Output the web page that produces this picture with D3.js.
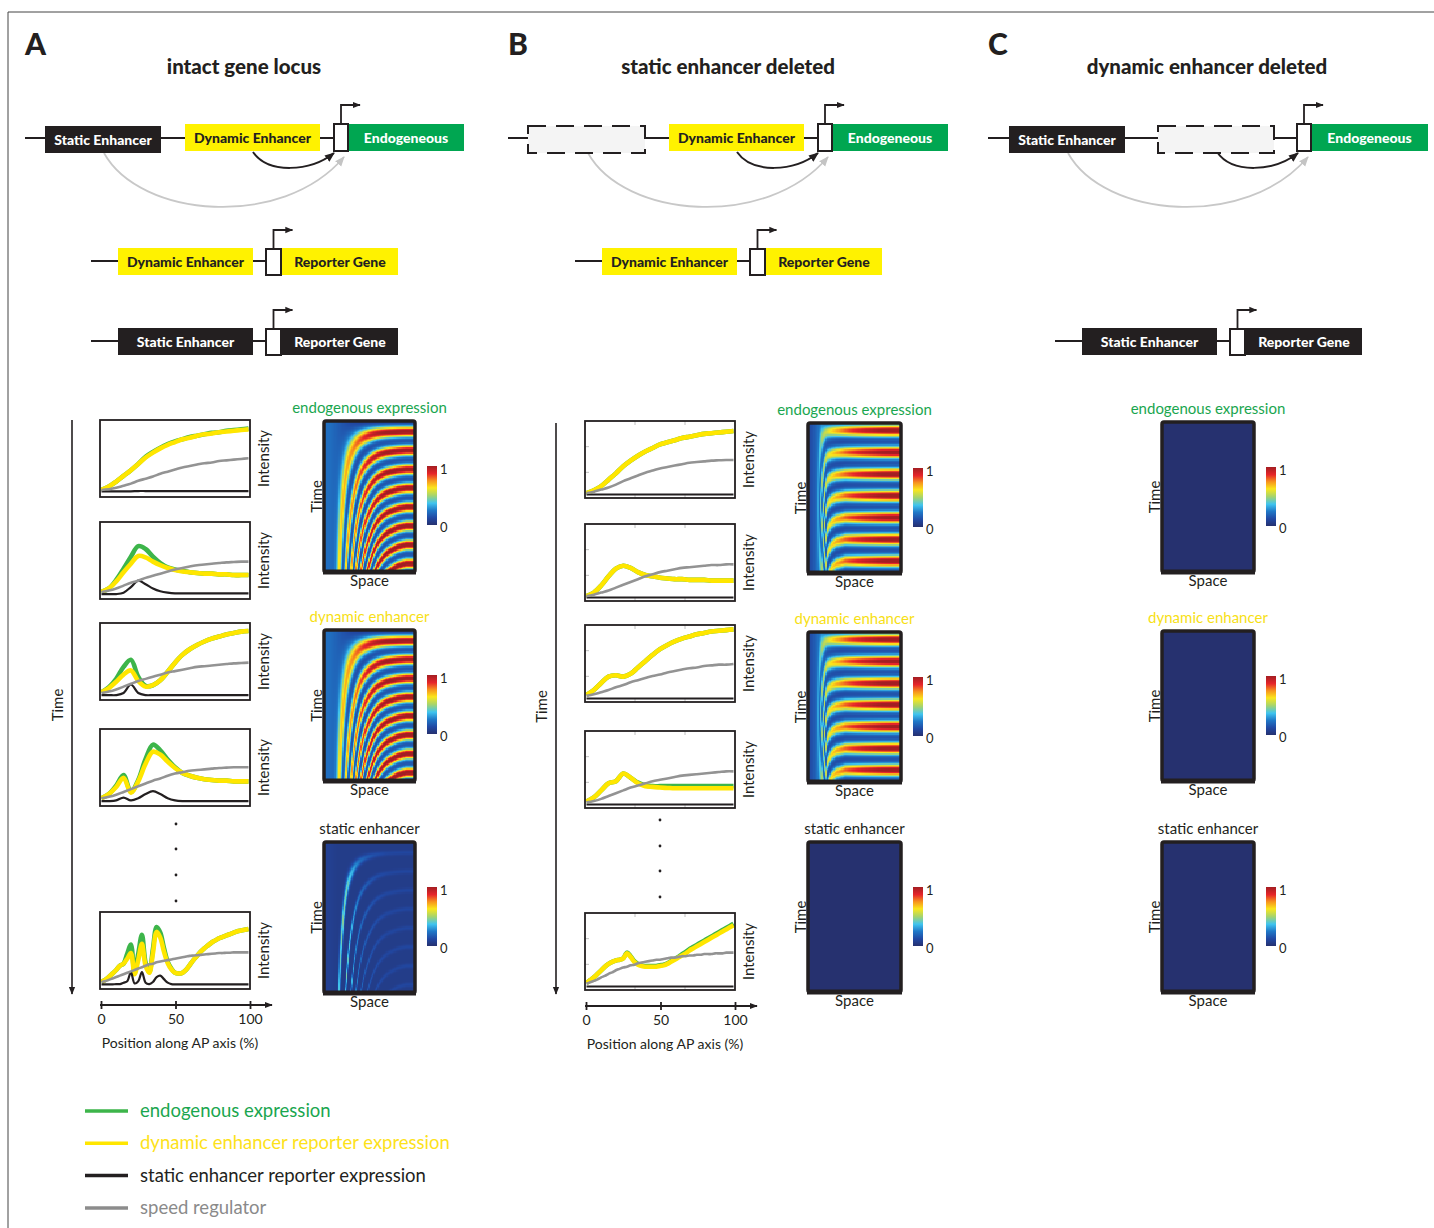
<!DOCTYPE html>
<html>
<head>
<meta charset="utf-8">
<script src="https://cdn.jsdelivr.net/npm/d3@7"></script>
<style>
  body { margin: 0; background: #fff; }
  svg text { font-family: Lato, "Open Sans", sans-serif; }
</style>
</head>
<body>
<svg id="fig" width="1434" height="1228"></svg>
<script>
// ---- data ----
const apPos = [0,5,10,15,20,25,30,35,40,45,50,55,60,65,70,75,80,85,90,95,100];
const apPosFine = [0,2.5,5,7.5,10,12.5,15,17.5,20,22.5,25,27.5,30,32.5,35,37.5,40,42.5,45,47.5,50,
  52.5,55,57.5,60,62.5,65,67.5,70,72.5,75,77.5,80,82.5,85,87.5,90,92.5,95,97.5,100];
const axisTicks = [0, 50, 100];

// panel A, intact locus: five snapshots along time
const aEndogenous = [
  [0.05,0.10,0.17,0.25,0.33,0.42,0.52,0.59,0.65,0.70,0.74,0.77,0.80,0.82,0.84,0.86,0.87,0.89,0.90,0.91,0.92],
  [0.05,0.10,0.22,0.38,0.55,0.70,0.66,0.55,0.46,0.40,0.37,0.35,0.33,0.32,0.31,0.31,0.30,0.30,0.29,0.29,0.29],
  [0.06,0.13,0.25,0.42,0.52,0.28,0.15,0.16,0.23,0.35,0.48,0.59,0.67,0.73,0.78,0.82,0.85,0.88,0.90,0.92,0.93],
  [0.06,0.12,0.24,0.39,0.15,0.32,0.62,0.82,0.74,0.61,0.50,0.42,0.38,0.35,0.33,0.32,0.31,0.31,0.30,0.30,0.30],
  [0.05,0.08,0.12,0.17,0.22,0.28,0.31,0.45,0.58,0.18,0.45,0.72,0.32,0.19,0.52,0.83,0.75,0.53,0.34,0.24,0.18,
   0.17,0.18,0.22,0.29,0.36,0.42,0.48,0.53,0.57,0.61,0.64,0.67,0.69,0.71,0.73,0.75,0.77,0.78,0.79,0.80]
];
const aDynamic = [
  [0.05,0.10,0.17,0.25,0.33,0.42,0.51,0.58,0.64,0.69,0.73,0.77,0.79,0.82,0.84,0.85,0.87,0.88,0.89,0.90,0.91],
  [0.05,0.10,0.20,0.33,0.45,0.56,0.54,0.48,0.43,0.39,0.36,0.34,0.33,0.32,0.31,0.31,0.30,0.30,0.29,0.29,0.29],
  [0.06,0.12,0.21,0.31,0.37,0.22,0.14,0.16,0.23,0.35,0.48,0.59,0.67,0.73,0.78,0.82,0.85,0.88,0.90,0.92,0.93],
  [0.06,0.12,0.22,0.35,0.14,0.30,0.55,0.72,0.68,0.58,0.49,0.42,0.38,0.35,0.33,0.32,0.31,0.31,0.30,0.30,0.30],
  [0.05,0.08,0.12,0.17,0.22,0.28,0.31,0.38,0.46,0.16,0.36,0.59,0.28,0.18,0.46,0.76,0.68,0.48,0.32,0.23,0.18,
   0.17,0.18,0.22,0.29,0.36,0.42,0.48,0.53,0.57,0.61,0.64,0.67,0.69,0.71,0.73,0.75,0.77,0.78,0.79,0.80]
];
const aStatic = [
  [0.03,0.03,0.03,0.03,0.03,0.035,0.035,0.035,0.035,0.035,0.035,0.035,0.035,0.035,0.035,0.035,0.035,0.035,0.035,0.035,0.035],
  [0.02,0.02,0.02,0.04,0.12,0.21,0.16,0.10,0.06,0.04,0.03,0.03,0.03,0.03,0.03,0.03,0.03,0.03,0.03,0.03,0.03],
  [0.02,0.02,0.02,0.05,0.17,0.05,0.02,0.02,0.02,0.02,0.02,0.02,0.02,0.02,0.02,0.02,0.02,0.02,0.02,0.02,0.02],
  [0.02,0.02,0.03,0.07,0.03,0.06,0.12,0.16,0.12,0.06,0.03,0.02,0.02,0.02,0.02,0.02,0.02,0.02,0.02,0.02,0.02],
  [0.015,0.015,0.015,0.015,0.02,0.02,0.04,0.06,0.19,0.03,0.06,0.19,0.04,0.02,0.05,0.12,0.14,0.09,0.04,0.02,0.015,
   0.015,0.015,0.015,0.015,0.015,0.015,0.015,0.015,0.015,0.015,0.015,0.015,0.015,0.015,0.015,0.015,0.015,0.015,0.015,0.015]
];
const aSpeed = [
  [0.05,0.06,0.08,0.11,0.14,0.18,0.21,0.24,0.28,0.31,0.34,0.37,0.39,0.41,0.43,0.44,0.46,0.47,0.48,0.49,0.50],
  [0.05,0.07,0.10,0.14,0.18,0.21,0.25,0.28,0.31,0.34,0.37,0.39,0.41,0.43,0.44,0.45,0.46,0.47,0.475,0.48,0.48],
  [0.05,0.07,0.10,0.14,0.18,0.22,0.25,0.28,0.31,0.34,0.36,0.38,0.40,0.42,0.43,0.44,0.45,0.46,0.47,0.475,0.48],
  [0.06,0.08,0.11,0.15,0.19,0.23,0.27,0.31,0.34,0.38,0.41,0.43,0.45,0.46,0.47,0.48,0.49,0.495,0.50,0.50,0.50],
  [0.05,0.06,0.08,0.10,0.12,0.14,0.16,0.18,0.20,0.22,0.24,0.26,0.28,0.30,0.31,0.33,0.34,0.35,0.36,0.37,0.38,
   0.39,0.40,0.41,0.42,0.425,0.43,0.435,0.44,0.445,0.45,0.455,0.46,0.46,0.465,0.465,0.47,0.47,0.47,0.47,0.47]
];

// panel B, static enhancer deleted
const bEndogenous = [
  [0.02,0.06,0.12,0.21,0.30,0.40,0.48,0.55,0.61,0.66,0.71,0.74,0.77,0.80,0.82,0.84,0.86,0.87,0.88,0.89,0.90],
  [0.02,0.07,0.17,0.30,0.41,0.45,0.42,0.36,0.32,0.30,0.28,0.27,0.26,0.26,0.25,0.25,0.25,0.24,0.24,0.24,0.24],
  [0.05,0.12,0.22,0.31,0.33,0.31,0.35,0.44,0.53,0.62,0.70,0.76,0.81,0.85,0.88,0.91,0.93,0.95,0.96,0.97,0.98],
  [0.04,0.10,0.20,0.30,0.33,0.44,0.38,0.31,0.27,0.26,0.26,0.26,0.26,0.26,0.26,0.26,0.26,0.26,0.26,0.26,0.26],
  [0.05,0.09,0.13,0.18,0.23,0.28,0.32,0.35,0.37,0.38,0.40,0.48,0.43,0.36,0.32,0.30,0.29,0.29,0.29,0.29,0.30,
   0.31,0.33,0.36,0.39,0.42,0.46,0.49,0.53,0.56,0.59,0.62,0.65,0.68,0.71,0.74,0.77,0.80,0.83,0.86,0.89]
];
const bDynamic = [
  [0.02,0.06,0.12,0.21,0.30,0.40,0.48,0.55,0.61,0.66,0.71,0.74,0.77,0.80,0.82,0.84,0.86,0.87,0.88,0.89,0.90],
  [0.02,0.07,0.17,0.30,0.41,0.45,0.42,0.36,0.32,0.30,0.28,0.27,0.26,0.26,0.25,0.25,0.25,0.24,0.24,0.24,0.24],
  [0.05,0.12,0.22,0.31,0.33,0.31,0.35,0.44,0.53,0.62,0.70,0.76,0.81,0.85,0.88,0.91,0.93,0.95,0.96,0.97,0.98],
  [0.04,0.10,0.20,0.30,0.33,0.44,0.38,0.30,0.26,0.25,0.24,0.235,0.23,0.23,0.23,0.23,0.23,0.23,0.23,0.23,0.23],
  [0.05,0.09,0.13,0.18,0.23,0.28,0.32,0.35,0.37,0.38,0.40,0.47,0.42,0.35,0.31,0.29,0.28,0.28,0.28,0.28,0.29,
   0.30,0.32,0.35,0.38,0.41,0.44,0.47,0.51,0.54,0.57,0.60,0.63,0.66,0.69,0.72,0.75,0.78,0.81,0.84,0.87]
];
const bStatic = [
  [0,0,0,0,0,0,0,0,0,0,0,0,0,0,0,0,0,0,0,0,0],
  [0,0,0,0,0,0,0,0,0,0,0,0,0,0,0,0,0,0,0,0,0],
  [0,0,0,0,0,0,0,0,0,0,0,0,0,0,0,0,0,0,0,0,0],
  [0,0,0,0,0,0,0,0,0,0,0,0,0,0,0,0,0,0,0,0,0],
  [0,0,0,0,0,0,0,0,0,0,0,0,0,0,0,0,0,0,0,0,0,0,0,0,0,0,0,0,0,0,0,0,0,0,0,0,0,0,0,0,0]
];
const bSpeed = [
  [0.02,0.04,0.07,0.10,0.14,0.19,0.23,0.27,0.31,0.34,0.37,0.39,0.41,0.43,0.45,0.46,0.47,0.48,0.485,0.49,0.49],
  [0.02,0.04,0.07,0.10,0.14,0.18,0.22,0.26,0.30,0.33,0.36,0.38,0.40,0.42,0.43,0.44,0.45,0.46,0.46,0.47,0.47],
  [0.04,0.06,0.09,0.12,0.16,0.19,0.23,0.26,0.29,0.32,0.34,0.37,0.39,0.41,0.43,0.44,0.46,0.47,0.48,0.48,0.49],
  [0.03,0.05,0.08,0.12,0.16,0.20,0.24,0.27,0.30,0.33,0.35,0.37,0.39,0.41,0.42,0.43,0.44,0.45,0.46,0.47,0.47],
  [0.04,0.06,0.08,0.10,0.13,0.15,0.18,0.20,0.23,0.25,0.27,0.28,0.30,0.31,0.33,0.34,0.35,0.36,0.37,0.38,0.38,
   0.39,0.40,0.41,0.41,0.42,0.43,0.43,0.44,0.44,0.45,0.45,0.46,0.46,0.46,0.47,0.47,0.47,0.48,0.48,0.48]
];

// kymographs (space x time): band phases, oscillation speed and band strength along space
const bandsIntact = [0.07,0.195,0.32,0.445,0.57,0.695,0.82,0.945];
const bandsStaticDel = [0.05,0.195,0.34,0.485,0.63,0.775,0.92];
const speedIntact = [0,0,0.01,0.05,0.12,0.22,0.33,0.45,0.56,0.66,0.74,0.81,0.87,0.91,0.94,0.96,0.98,0.99,1,1,1];
const speedStaticDel = [0,0,0.02,0.5,0.88,0.95,0.98,0.99,1,1,1,1,1,1,1,1,1,1,1,1,1];
const ampEndoIntact = [0.05,0.1,0.25,0.45,0.55,0.6,0.65,0.7,0.75,0.8,0.85,0.88,0.9,0.92,0.94,0.95,0.96,0.96,0.96,0.96,0.96];
const baseEndoIntact = [0.22,0.22,0.2,0.17,0.14,0.12,0.1,0.09,0.08,0.08,0.08,0.08,0.08,0.08,0.08,0.08,0.08,0.08,0.08,0.08,0.08];
const ampStaticIntact = [0,0,0.1,0.3,0.4,0.38,0.3,0.22,0.16,0.12,0.1,0.08,0.07,0.06,0.05,0.05,0.05,0.05,0.05,0.05,0.05];
const baseStaticIntact = [0.08,0.08,0.07,0.06,0.06,0.06,0.06,0.06,0.06,0.06,0.06,0.06,0.06,0.06,0.06,0.06,0.06,0.06,0.06,0.06,0.06];
const ampStaticDel = [0,0,0.1,0.3,0.45,0.55,0.62,0.68,0.73,0.77,0.8,0.83,0.86,0.88,0.9,0.92,0.94,0.95,0.96,0.96,0.96];
const baseStaticDel = [0.12,0.15,0.19,0.2,0.12,0.1,0.09,0.08,0.08,0.08,0.08,0.08,0.08,0.08,0.08,0.08,0.08,0.08,0.08,0.08,0.08];

const legendLabels = ["endogenous expression", "dynamic enhancer reporter expression",
  "static enhancer reporter expression", "speed regulator"];

// ---- styles ----
const ink = "#231f20";
const cGreen = "#3db54a", cYellow = "#ffe600", cGray = "#939393";
const jetStops = [0, 0.12, 0.25, 0.37, 0.5, 0.63, 0.75, 0.87, 1];
const jetColors = ["#26316f", "#2148a3", "#2079c8", "#3fc4ef", "#a6d46d", "#fbe61b", "#f7941d", "#e6252a", "#a31e22"];
const color = d3.scaleLinear().domain(jetStops).range(jetColors).clamp(true);

const svg = d3.select("#fig");
const defs = svg.append("defs");

function marker(id, fill, size) {
  defs.append("marker").attr("id", id)
    .attr("viewBox", "0 0 10 10").attr("refX", 9).attr("refY", 5)
    .attr("markerWidth", size).attr("markerHeight", size)
    .attr("markerUnits", "userSpaceOnUse").attr("orient", "auto")
    .append("path").attr("d", "M0,1 L10,5 L0,9 Z").attr("fill", fill);
}
marker("arrBlack", ink, 10);
marker("arrGray", "#c4c4c4", 10);
marker("arrSmall", ink, 8);

// colorbar gradient
const grad = defs.append("linearGradient").attr("id", "jet")
  .attr("x1", 0).attr("y1", 1).attr("x2", 0).attr("y2", 0);
jetStops.forEach(s => grad.append("stop").attr("offset", s).attr("stop-color", color(s)));

// frame
svg.append("line").attr("x1", 8).attr("y1", 12).attr("x2", 1434).attr("y2", 12).attr("stroke", "#444").attr("stroke-width", 1);
svg.append("line").attr("x1", 8).attr("y1", 12).attr("x2", 8).attr("y2", 1228).attr("stroke", "#444").attr("stroke-width", 1);

function text(x, y, str, opts = {}) {
  return svg.append("text").attr("x", x).attr("y", y)
    .attr("font-size", opts.size || 14)
    .attr("font-weight", opts.weight || "normal")
    .attr("fill", opts.fill || ink)
    .attr("text-anchor", opts.anchor || "middle")
    .text(str);
}
function vText(x, y, str, size, fill) {
  svg.append("text").attr("transform", `translate(${x},${y}) rotate(-90)`)
    .attr("text-anchor", "middle").attr("font-size", size).attr("fill", fill || ink).text(str);
}

// panel letters and titles
[["A", 25, "intact gene locus", 244], ["B", 508, "static enhancer deleted", 728],
 ["C", 988, "dynamic enhancer deleted", 1207]].forEach(([l, lx, t, tx]) => {
  text(lx, 55, l, { size: 30, weight: 900, anchor: "start" });
  text(tx, 74, t, { size: 20.5, weight: 900 });
});

// ---- gene diagrams ----
function hline(x1, x2, y) {
  svg.append("line").attr("x1", x1).attr("x2", x2).attr("y1", y).attr("y2", y)
    .attr("stroke", ink).attr("stroke-width", 2);
}
function geneBox(x, y, w, h, fill, label, tc) {
  svg.append("rect").attr("x", x).attr("y", y).attr("width", w).attr("height", h).attr("fill", fill);
  text(x + w / 2, y + h / 2 + 5, label, { size: 14, weight: 900, fill: tc });
}
function deletedBox(x, y, w, h) {
  svg.append("rect").attr("x", x).attr("y", y).attr("width", w).attr("height", h)
    .attr("fill", "#f4f4f4").attr("stroke", ink).attr("stroke-width", 2)
    .attr("stroke-dasharray", "18,10");
}
function promoter(x, y, w, h) {
  svg.append("rect").attr("x", x).attr("y", y).attr("width", w).attr("height", h)
    .attr("fill", "#fff").attr("stroke", ink).attr("stroke-width", 2);
  const cx = x + w / 2;
  svg.append("path").attr("d", `M${cx},${y} V${y - 19} H${cx + 19}`)
    .attr("fill", "none").attr("stroke", ink).attr("stroke-width", 1.8)
    .attr("marker-end", "url(#arrSmall)");
}
function loops(dx) {
  svg.append("path").attr("d", `M${104 + dx},153 C${140 + dx},218 ${282 + dx},230 ${344 + dx},157`)
    .attr("fill", "none").attr("stroke", "#c8c8c8").attr("stroke-width", 1.8)
    .attr("marker-end", "url(#arrGray)");
  svg.append("path").attr("d", `M${253 + dx},152 C${268 + dx},174 ${310 + dx},172 ${334 + dx},153`)
    .attr("fill", "none").attr("stroke", ink).attr("stroke-width", 2)
    .attr("marker-end", "url(#arrBlack)");
}

// A: intact locus
loops(0);
hline(25, 334, 138);
geneBox(45, 126, 116, 27, ink, "Static Enhancer", "#fff");
geneBox(185, 124, 135, 27, "#fff200", "Dynamic Enhancer", ink);
geneBox(348, 124, 116, 27, "#00a651", "Endogeneous", "#fff");
promoter(334, 124, 14, 27);
// B: static enhancer deleted
loops(484);
hline(508, 818, 138);
deletedBox(528, 126, 117, 27);
geneBox(669, 124, 135, 27, "#fff200", "Dynamic Enhancer", ink);
geneBox(832, 124, 116, 27, "#00a651", "Endogeneous", "#fff");
promoter(818, 124, 14, 27);
// C: dynamic enhancer deleted
loops(964);
hline(988, 1297, 138);
geneBox(1009, 126, 116, 27, ink, "Static Enhancer", "#fff");
deletedBox(1158, 126, 116, 27);
geneBox(1311, 124, 117, 27, "#00a651", "Endogeneous", "#fff");
promoter(1297, 124, 14, 27);

// reporter constructs
function reporter(dx, y, fill, label, tc) {
  hline(91 + dx, 266 + dx, y + 13);
  geneBox(118 + dx, y, 135, 27, fill, label, tc);
  geneBox(282 + dx, y, 116, 27, fill, "Reporter Gene", tc);
  promoter(266 + dx, y + 1, 15, 26);
}
reporter(0, 248, "#fff200", "Dynamic Enhancer", ink);
reporter(0, 328, ink, "Static Enhancer", "#fff");
reporter(484, 248, "#fff200", "Dynamic Enhancer", ink);
reporter(964, 328, ink, "Static Enhancer", "#fff");

// ---- snapshot line plots ----
const plotW = 150, plotH = 77;
function snapshot(x0, top, pos, endo, dyn, stat, speed, thirds, lx) {
  const sx = d3.scaleLinear().domain([0, 100]).range([x0 + 1.5, x0 + plotW - 1.5]);
  const sy = d3.scaleLinear().domain([0, 1]).range([top + plotH - 3.5, top + 3]);
  const line = d3.line().x((d, i) => sx(pos[i])).y(d => sy(d)).curve(d3.curveCatmullRom.alpha(0.5));
  svg.append("rect").attr("x", x0).attr("y", top).attr("width", plotW).attr("height", plotH).attr("fill", "#fff");
  if (thirds) {
    const tk = svg.append("g").attr("stroke", "#c0c0c0").attr("stroke-width", 1);
    [1 / 3, 2 / 3].forEach(f => {
      const xx = x0 + plotW * f, yy = top + plotH * f;
      tk.append("line").attr("x1", xx).attr("x2", xx).attr("y1", top).attr("y2", top + 4);
      tk.append("line").attr("x1", xx).attr("x2", xx).attr("y1", top + plotH - 4).attr("y2", top + plotH);
      tk.append("line").attr("x1", x0).attr("x2", x0 + 4).attr("y1", yy).attr("y2", yy);
    });
  }
  [[endo, cGreen, 4.6], [dyn, cYellow, 4.6], [stat, ink, 2.2], [speed, cGray, 2.6]].forEach(([vals, c, w]) => {
    svg.append("path").datum(vals).attr("d", line).attr("fill", "none")
      .attr("stroke", c).attr("stroke-width", w).attr("stroke-linejoin", "round");
  });
  svg.append("rect").attr("x", x0).attr("y", top).attr("width", plotW).attr("height", plotH)
    .attr("fill", "none").attr("stroke", ink).attr("stroke-width", 1.8);
  vText(lx, top + plotH / 2, "Intensity", 15);
}
const aTops = [420, 522, 623, 729, 912];
const bTops = [421, 524, 625, 731, 913];
aTops.forEach((t, i) => snapshot(100, t, i === 4 ? apPosFine : apPos, aEndogenous[i], aDynamic[i], aStatic[i], aSpeed[i], false, 269));
bTops.forEach((t, i) => snapshot(585, t, i === 4 ? apPosFine : apPos, bEndogenous[i], bDynamic[i], bStatic[i], bSpeed[i], true, 754));

// time arrows, ellipsis dots, space axes
function timeAxis(x, y1, y2, lx) {
  svg.append("line").attr("x1", x).attr("x2", x).attr("y1", y1).attr("y2", y2)
    .attr("stroke", ink).attr("stroke-width", 1.6).attr("marker-end", "url(#arrSmall)");
  vText(lx, (y1 + y2) / 2 - 2, "Time", 15);
}
timeAxis(72, 420, 994, 63);
timeAxis(556, 423, 994, 547);
[824, 849, 875, 901].forEach(y => svg.append("circle").attr("cx", 176).attr("cy", y).attr("r", 1.4).attr("fill", ink));
[820, 846, 871, 897].forEach(y => svg.append("circle").attr("cx", 660).attr("cy", y).attr("r", 1.4).attr("fill", ink));

function spaceAxis(x0, x1, y, end, labelX) {
  const sc = d3.scaleLinear().domain([0, 100]).range([x0, x1]);
  svg.append("line").attr("x1", x0 - 1).attr("x2", end).attr("y1", y).attr("y2", y)
    .attr("stroke", ink).attr("stroke-width", 1.8).attr("marker-end", "url(#arrSmall)");
  const g = svg.append("g").attr("transform", `translate(0,${y})`)
    .call(d3.axisBottom(sc).tickValues(axisTicks).tickSize(4).tickPadding(5));
  g.attr("font-family", "Lato, 'Open Sans', sans-serif").attr("font-size", 14);
  g.select(".domain").remove();
  g.selectAll(".tick line").attr("y1", -4).attr("y2", 4).attr("stroke", ink).attr("stroke-width", 1.8);
  g.selectAll(".tick text").attr("fill", ink);
  text(labelX, y + 43, "Position along AP axis (%)", { size: 14 });
}
spaceAxis(101, 250, 1005, 272, 180);
spaceAxis(586, 735, 1006, 757, 665);

// ---- kymographs ----
const heatCols = 70, heatRows = 120;
function kymograph(x, y, w, h, spec, title, titleColor) {
  const sx = d3.scaleLinear().domain([0, heatCols]).range([x, x + w]);
  const sy = d3.scaleLinear().domain([0, heatRows]).range([y, y + h]);
  const g = svg.append("g").attr("shape-rendering", "crispEdges");
  if (spec) {
    const speed = d3.scaleLinear().domain(apPos).range(spec.speed).clamp(true);
    const amp = d3.scaleLinear().domain(apPos).range(spec.amp).clamp(true);
    const base = d3.scaleLinear().domain(apPos).range(spec.base).clamp(true);
    const cells = [];
    for (let i = 0; i < heatCols; i++) {
      const xp = (i + 0.5) / heatCols * 100;
      for (let j = 0; j < heatRows; j++) {
        const phase = (j + 0.5) / heatRows * speed(xp);
        const s = d3.sum(spec.bands, c => Math.exp(-Math.pow((phase - c) / spec.width, 2)));
        cells.push({ i, j, v: base(xp) + amp(xp) * Math.min(1, s) });
      }
    }
    g.selectAll("rect").data(cells).join("rect")
      .attr("x", d => sx(d.i)).attr("y", d => sy(d.j))
      .attr("width", sx(1) - sx(0) + 0.6).attr("height", sy(1) - sy(0) + 0.6)
      .attr("fill", d => color(d.v));
  } else {
    g.append("rect").attr("x", x).attr("y", y).attr("width", w).attr("height", h).attr("fill", color(0));
  }
  svg.append("rect").attr("x", x).attr("y", y).attr("width", w).attr("height", h)
    .attr("rx", 2).attr("fill", "none").attr("stroke", ink).attr("stroke-width", 3.5);
  svg.append("line").attr("x1", x - 1).attr("x2", x + w + 1).attr("y1", y + h).attr("y2", y + h)
    .attr("stroke", ink).attr("stroke-width", 5);
  text(x + w / 2, y - 8, title, { size: 15, fill: titleColor });
  text(x + w / 2, y + h + 14, "Space", { size: 15 });
  vText(x - 2, y + h / 2, "Time", 15);
  // colorbar
  const cbx = x + w + 12, cby = y + 45, cbh = 59;
  svg.append("rect").attr("x", cbx).attr("y", cby).attr("width", 10).attr("height", cbh).attr("fill", "url(#jet)");
  text(cbx + 13, cby + 8, "1", { size: 13, anchor: "start" });
  text(cbx + 13, cby + cbh + 7, "0", { size: 13, anchor: "start" });
}
const specEndoIntact = { speed: speedIntact, amp: ampEndoIntact, base: baseEndoIntact, bands: bandsIntact, width: 0.035 };
const specStaticIntact = { speed: speedIntact, amp: ampStaticIntact, base: baseStaticIntact, bands: bandsIntact, width: 0.015 };
const specStaticDel = { speed: speedStaticDel, amp: ampStaticDel, base: baseStaticDel, bands: bandsStaticDel, width: 0.04 };
const titleCols = ["#1aa64f", "#f7df16", ink];
const titles = ["endogenous expression", "dynamic enhancer", "static enhancer"];

[[421, specEndoIntact], [630, specEndoIntact], [842, specStaticIntact]].forEach(([t, s], i) =>
  kymograph(324, t, 91, 151, s, titles[i], titleCols[i]));
[[423, specStaticDel], [632, specStaticDel], [842, null]].forEach(([t, s], i) =>
  kymograph(808, t, 93, 150, s, titles[i], titleCols[i]));
[422, 631, 842].forEach((t, i) => kymograph(1162, t, 92, 150, null, titles[i], titleCols[i]));

// ---- legend ----
const legColors = [cGreen, cYellow, ink, "#8c8c8c"];
const legText = ["#1aa64f", "#fde21a", ink, "#8a8a8a"];
legendLabels.forEach((l, i) => {
  const y = 1111 + i * 32.3;
  svg.append("line").attr("x1", 85).attr("x2", 128).attr("y1", y).attr("y2", y)
    .attr("stroke", legColors[i]).attr("stroke-width", 3.5);
  text(140, y + 6, l, { size: 18.5, anchor: "start", fill: legText[i] });
});
</script>
</body>
</html>
